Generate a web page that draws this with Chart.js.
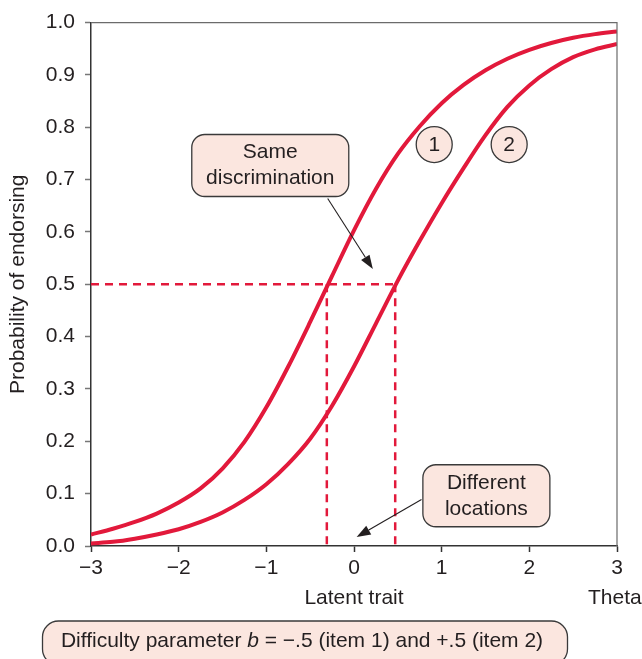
<!DOCTYPE html>
<html>
<head>
<meta charset="utf-8">
<script src="https://cdn.jsdelivr.net/npm/chart.js@4.4.0/dist/chart.umd.min.js"></script>
<style>
  html, body { margin: 0; padding: 0; background: #fff; }
  canvas { display: block; }
</style>
</head>
<body>
<canvas id="irt" width="642" height="659"></canvas>
<script>
// values
const theta = [-3, -2.75, -2.5, -2.25, -2, -1.75, -1.5, -1.25, -1, -0.75, -0.5, -0.25,
               0, 0.25, 0.5, 0.75, 1, 1.25, 1.5, 1.75, 2, 2.25, 2.5, 2.75, 3];
const item1 = [0.022, 0.033, 0.046, 0.062, 0.083, 0.11, 0.148, 0.199, 0.265, 0.343, 0.428, 0.516,
               0.603, 0.682, 0.749, 0.802, 0.846, 0.881, 0.909, 0.931, 0.948, 0.961, 0.971, 0.978, 0.983];
const item2 = [0.005, 0.008, 0.014, 0.022, 0.032, 0.046, 0.064, 0.088, 0.118, 0.157, 0.205, 0.268,
               0.343, 0.425, 0.507, 0.583, 0.655, 0.722, 0.785, 0.839, 0.88, 0.911, 0.934, 0.949, 0.959];
const difficulty = [-0.31, 0.47];
const halfProb = 0.5;
const yTicks = [0, 0.1, 0.2, 0.3, 0.4, 0.5, 0.6, 0.7, 0.8, 0.9, 1.0];
const xTicks = [-3, -2, -1, 0, 1, 2, 3];

const RED = "#e2193b";
const INK = "#231f20";
const PINK = "#fbe6df";
const FONT = "Liberation Sans, Arial, Helvetica, sans-serif";
const SIZE = 21;

function roundBox(ctx, x, y, w, h, r) {
  ctx.beginPath();
  ctx.roundRect(x, y, w, h, r);
  ctx.fillStyle = PINK;
  ctx.fill();
  ctx.lineWidth = 1.3;
  ctx.strokeStyle = "#3a3a3a";
  ctx.stroke();
}

function arrow(ctx, x1, y1, x2, y2) {
  const ang = Math.atan2(y2 - y1, x2 - x1);
  const len = 14, half = 5;
  const bx = x2 - len * Math.cos(ang), by = y2 - len * Math.sin(ang);
  ctx.beginPath();
  ctx.moveTo(x1, y1);
  ctx.lineTo(bx, by);
  ctx.lineWidth = 1.1;
  ctx.strokeStyle = INK;
  ctx.stroke();
  ctx.beginPath();
  ctx.moveTo(x2, y2);
  ctx.lineTo(bx + half * Math.sin(ang), by - half * Math.cos(ang));
  ctx.lineTo(bx - half * Math.sin(ang), by + half * Math.cos(ang));
  ctx.closePath();
  ctx.fillStyle = INK;
  ctx.fill();
}

const decorations = {
  id: "decorations",
  afterDatasetsDraw(chart) {
    const ctx = chart.ctx;
    const xs = chart.scales.x, ys = chart.scales.y;
    const X = v => xs.getPixelForValue(v);
    const Y = v => ys.getPixelForValue(v);
    const area = chart.chartArea;
    ctx.save();

    // thin frame on top and right
    ctx.beginPath();
    ctx.moveTo(area.left, area.top);
    ctx.lineTo(area.right, area.top);
    ctx.lineTo(area.right, area.bottom);
    ctx.lineWidth = 1.2;
    ctx.strokeStyle = "#6b6b6b";
    ctx.stroke();

    const f = SIZE + "px " + FONT;
    ctx.font = f;
    ctx.textAlign = "center";
    ctx.textBaseline = "middle";

    // "Same discrimination" callout
    let cx = X(-0.955), cy = Y(0.727);
    roundBox(ctx, cx - 78.5, cy - 31, 157, 62, 13);
    ctx.fillStyle = INK;
    ctx.fillText("Same", cx, cy - 13);
    ctx.fillText("discrimination", cx, cy + 13);
    arrow(ctx, X(-0.30), Y(0.664), X(0.215), Y(0.529));

    // item circles
    [[0.915, "1"], [1.77, "2"]].forEach(([t, lab]) => {
      const px = X(t), py = Y(0.767);
      ctx.beginPath();
      ctx.arc(px, py, 18, 0, Math.PI * 2);
      ctx.fillStyle = PINK;
      ctx.fill();
      ctx.lineWidth = 1.3;
      ctx.strokeStyle = "#3a3a3a";
      ctx.stroke();
      ctx.fillStyle = INK;
      ctx.fillText(lab, px, py + 1);
    });

    // "Different locations" callout
    cx = X(1.51); cy = Y(0.096);
    roundBox(ctx, cx - 63.5, cy - 31, 127, 62, 13);
    ctx.fillStyle = INK;
    ctx.fillText("Different", cx, cy - 13);
    ctx.fillText("locations", cx, cy + 13);
    arrow(ctx, X(0.77), Y(0.089), X(0.03), Y(0.017));

    // axis titles
    ctx.fillStyle = INK;
    ctx.fillText("Latent trait", X(0), 598);
    ctx.textAlign = "left";
    ctx.fillText("Theta", 588, 598);
    ctx.save();
    ctx.translate(18, Y(0.5));
    ctx.rotate(-Math.PI / 2);
    ctx.textAlign = "center";
    ctx.fillText("Probability of endorsing", 0, 0);
    ctx.restore();

    // caption box
    roundBox(ctx, 42.5, 621, 525, 44, 16);
    const parts = [
      ["Difficulty parameter ", f],
      ["b", "italic " + f],
      [" = \u2212.5 (item 1) and +.5 (item 2)", f]
    ];
    let total = 0;
    parts.forEach(p => { ctx.font = p[1]; total += ctx.measureText(p[0]).width; });
    let tx = 302 - total / 2;
    ctx.textAlign = "left";
    ctx.fillStyle = INK;
    parts.forEach(p => {
      ctx.font = p[1];
      ctx.fillText(p[0], tx, 641);
      tx += ctx.measureText(p[0]).width;
    });

    ctx.restore();
  }
};

const dashed = {
  borderColor: RED,
  borderWidth: 2.5,
  borderDash: [8, 6],
  pointRadius: 0,
  order: 2
};

new Chart(document.getElementById("irt"), {
  type: "line",
  data: {
    datasets: [
      Object.assign({ label: "half", data: [{ x: -3, y: halfProb }, { x: difficulty[1], y: halfProb }] }, dashed),
      Object.assign({ label: "b1", data: [{ x: difficulty[0], y: halfProb }, { x: difficulty[0], y: 0 }] }, dashed),
      Object.assign({ label: "b2", data: [{ x: difficulty[1], y: halfProb }, { x: difficulty[1], y: 0 }] }, dashed),
      {
        label: "Item 1",
        data: theta.map((t, i) => ({ x: t, y: item1[i] })),
        borderColor: RED,
        borderWidth: 4,
        pointRadius: 0,
        cubicInterpolationMode: "monotone",
        order: 1
      },
      {
        label: "Item 2",
        data: theta.map((t, i) => ({ x: t, y: item2[i] })),
        borderColor: RED,
        borderWidth: 4,
        pointRadius: 0,
        cubicInterpolationMode: "monotone",
        order: 1
      }
    ]
  },
  options: {
    responsive: false,
    animation: false,
    layout: { padding: { top: 19, right: 25, left: 0, bottom: 0 } },
    plugins: { legend: { display: false }, tooltip: { enabled: false } },
    scales: {
      x: {
        type: "linear",
        min: -3,
        max: 3,
        afterBuildTicks: s => { s.ticks = xTicks.map(v => ({ value: v })); },
        afterFit: s => { s.height = 113; },
        grid: { drawOnChartArea: false, tickLength: 6, tickWidth: 1.5, tickColor: "#333" },
        border: { color: "#333", width: 1.5 },
        ticks: {
          color: INK,
          font: { family: FONT, size: SIZE },
          padding: 4,
          callback: v => (v < 0 ? "\u2212" + Math.abs(v) : String(v))
        }
      },
      y: {
        min: 0,
        max: 1,
        afterBuildTicks: s => { s.ticks = yTicks.map(v => ({ value: v })); },
        afterFit: s => { s.width = 91; },
        grid: { drawOnChartArea: false, tickLength: 6, tickWidth: 1.5, tickColor: "#777" },
        border: { color: "#333", width: 1.5 },
        ticks: {
          color: INK,
          font: { family: FONT, size: SIZE },
          padding: 10,
          callback: v => v.toFixed(1)
        }
      }
    }
  },
  plugins: [decorations]
});
</script>
</body>
</html>
